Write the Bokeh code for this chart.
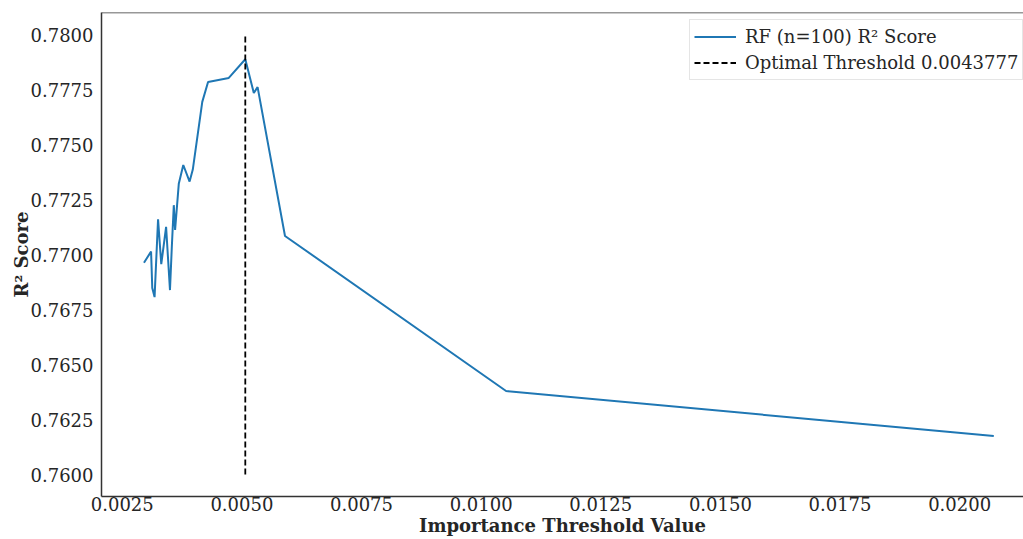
from bokeh.plotting import figure
from bokeh.models import Range1d, Span, Legend, LegendItem, FixedTicker, PrintfTickFormatter
from bokeh.embed import file_html
from bokeh.resources import INLINE

# Feature-importance threshold sweep: R² of the random forest at each cut-off
thresholds = [
    0.002954, 0.003102, 0.003127, 0.003175, 0.003248, 0.003315, 0.003416,
    0.003497, 0.003535, 0.003577, 0.003604, 0.003681, 0.003775, 0.003907,
    0.003974, 0.004172, 0.004293, 0.004726, 0.005071, 0.005249, 0.005328,
    0.005901, 0.010521, 0.020713,
]
r2_scores = [
    0.769626, 0.770137, 0.768474, 0.768064, 0.771604, 0.769558, 0.771253,
    0.768383, 0.770319, 0.772242, 0.771116, 0.773212, 0.774068, 0.773317,
    0.773863, 0.776938, 0.777845, 0.778027, 0.778875, 0.777344, 0.777608,
    0.770843, 0.763795, 0.761745,
]

x_ticks = [0.0025, 0.0050, 0.0075, 0.0100, 0.0125, 0.0150, 0.0175, 0.0200]
y_ticks = [0.7600, 0.7625, 0.7650, 0.7675, 0.7700, 0.7725, 0.7750, 0.7775, 0.7800]

marker_span = [0.76, 0.78]
series_label = "RF (n=100) R² Score"
threshold_label = "Optimal Threshold 0.0043777"

best_idx = max(range(len(r2_scores)), key=lambda i: r2_scores[i])
best_x = thresholds[best_idx]

FONT = "DejaVu Serif"
DARK = "#262626"
EDGE = "#333333"

p = figure(
    width=1023, height=539,
    output_backend="svg", toolbar_location=None,
    x_range=Range1d(0.002066, 0.021334),
    y_range=Range1d(0.759, 0.781),
    min_border_left=101, min_border_right=0,
    min_border_top=12, min_border_bottom=43,
)
p.title.visible = False

line_r = p.line(thresholds, r2_scores, line_color="#1f77b4", line_width=2)
vline_r = p.segment(
    x0=[best_x], y0=[marker_span[0]], x1=[best_x], y1=[marker_span[1]],
    line_color="black", line_width=1.8, line_dash="6 3",
)

p.grid.visible = False
p.outline_line_color = None
p.add_layout(Span(location=0.781, dimension="width", line_color=EDGE, line_width=1.5))

p.xaxis.ticker = FixedTicker(ticks=x_ticks)
p.yaxis.ticker = FixedTicker(ticks=y_ticks)
p.xaxis.formatter = PrintfTickFormatter(format="%.4f")
p.yaxis.formatter = PrintfTickFormatter(format="%.4f")

for ax in (p.xaxis, p.yaxis):
    ax.major_tick_out = 0
    ax.major_tick_in = 0
    ax.minor_tick_out = 0
    ax.minor_tick_in = 0
    ax.axis_line_color = EDGE
    ax.axis_line_width = 1.5
    ax.major_label_text_font = FONT
    ax.major_label_text_font_size = "18px"
    ax.major_label_text_color = DARK
    ax.axis_label_text_font = FONT
    ax.axis_label_text_font_size = "18px"
    ax.axis_label_text_font_style = "bold"
    ax.axis_label_text_color = DARK

p.xaxis.axis_label = "Importance Threshold Value"
p.yaxis.axis_label = "R² Score"
p.xaxis.major_label_standoff = 0
p.yaxis.major_label_standoff = 8
p.xaxis.axis_label_standoff = 1
p.yaxis.axis_label_standoff = -4
p.yaxis.axis_label_text_line_height = 1.0

legend = Legend(
    items=[
        LegendItem(label=series_label, renderers=[line_r]),
        LegendItem(label=threshold_label, renderers=[vline_r]),
    ],
    location=(588, 416),
    padding=4,
    spacing=1,
    glyph_width=42,
    glyph_height=25,
    label_standoff=9,
    label_text_font=FONT,
    label_text_font_size="18px",
    label_text_color=DARK,
    border_line_color="#cccccc",
    border_line_width=1,
    background_fill_color="white",
    background_fill_alpha=1.0,
)
p.add_layout(legend)

open("out.html", "w").write(file_html(p, INLINE))
